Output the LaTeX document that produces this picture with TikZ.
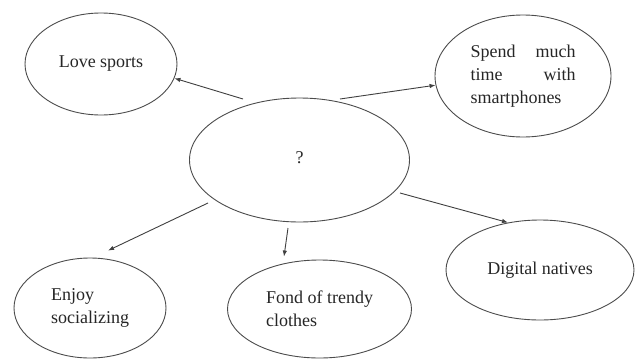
\documentclass[tikz,border=0pt]{standalone}
\usepackage{fontspec}
\setmainfont{Liberation Serif}
\usetikzlibrary{shapes.geometric,arrows.meta}
\tikzset{
  bubble/.style={ellipse, draw=black!70, line width=0.9pt, inner sep=0pt,
    text=black!85, font=\fontsize{18}{23}\selectfont},
  arr/.style={draw=black!75, line width=0.9pt, -{Latex[length=6pt,width=4.5pt]}}
}
\begin{document}
\begin{tikzpicture}[x=1pt,y=-1pt]
\useasboundingbox[fill=white] (0,0) rectangle (637,359);
\node[bubble, minimum width=220pt, minimum height=124pt] (c) at (299.5,160) {\raisebox{4pt}{?}};
\node[bubble, minimum width=152pt, minimum height=102pt] (love) at (101,64) {Love sports};
\node[bubble, minimum width=176pt, minimum height=122pt, align=left, text width=105pt] (smart) at (523,76) {Spend \hfill much\\ time \hfill with\\ smartphones};
\node[bubble, minimum width=152pt, minimum height=100pt, align=left] (enjoy) at (90,308) {Enjoy\\ socializing};
\node[bubble, minimum width=184pt, minimum height=98pt, align=left] (fond) at (319.5,309) {Fond of trendy\\ clothes};
\node[bubble, minimum width=188pt, minimum height=100pt] (digital) at (540,270) {Digital natives};
\coordinate (s1) at (243,99);
\coordinate (s2) at (340,99);
\coordinate (s3) at (208,203);
\coordinate (s4) at (288,228);
\coordinate (s5) at (400,193);
\draw[arr] (s1) -- (love.-11);
\draw[arr] (s2) -- (smart.186.5);
\draw[arr] (s3) -- ([shift={(18,-7)}]enjoy.north);
\draw[arr] (s4) -- ([shift={(-35.5,-3)}]fond.north);
\draw[arr] (s5) -- (digital.124);
\end{tikzpicture}
\end{document}
